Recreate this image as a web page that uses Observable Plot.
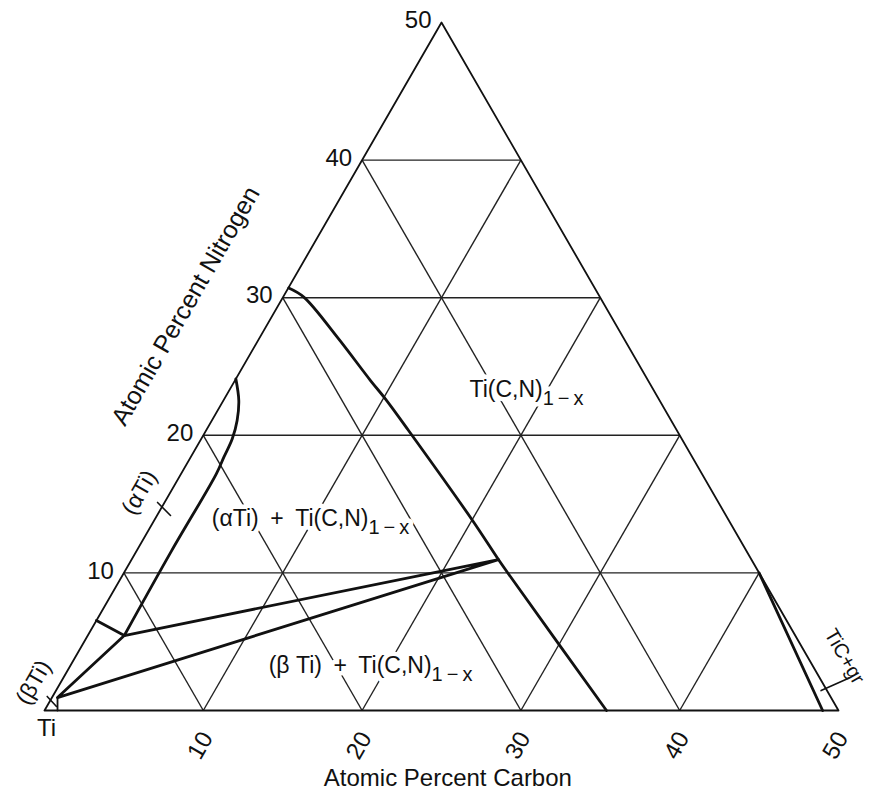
<!DOCTYPE html>
<html><head><meta charset="utf-8">
<script src="https://cdn.jsdelivr.net/npm/d3@7"></script>
<script src="https://cdn.jsdelivr.net/npm/@observablehq/plot@0.6"></script>
<style>html,body{margin:0;padding:0;background:#fff;overflow:hidden}</style>
</head><body><div id="chart"></div>
<script>
// Ti–C–N isothermal section, Ti corner. Points are [at% C, at% N].
const tickValues = [10, 20, 30, 40, 50];
const gridLevels = [10, 20, 30, 40];
const outline = [[0, 0], [50, 0], [0, 50], [0, 0]];
const tiCNBoundary = [[0.03, 30.7], [1.31, 30.04], [4.87, 27.13], [8.54, 23.98], [10.14, 22.65], [12.75, 20.35], [20.05, 13.81], [23.1, 10.97], [24.14, 10.03], [35.39, 0]];
const alphaBoundary = [[0, 24.1], [0.97, 22.53], [1.59, 21.08], [1.95, 19.75], [2.09, 18.41], [2.22, 17.2], [2.2, 11.6], [2.3, 5.45]];
const alphaBetaBoundary = [[0, 6.54], [2.3, 5.45]];
const tieTriangle = [[0.35, 0.94], [2.3, 5.45], [23.1, 10.97], [0.35, 0.94]];
const betaBoundary = [[0.35, 0.94], [0.82, 0]];
const tiCBoundary = [[40, 10], [49, 0]];
const alphaTick = [[-0.44, 15.12], [0.85, 14.17]];
const betaTick = [[-0.34, 1.02], [0.61, 0.29]];
const graphiteTick = [[48.18, 1.45], [49.46, 2.35]];
const regionLabels = ["Ti(C,N)", "(αTi)\u2002+\u2002Ti(C,N)", "(β Ti)\u2002+\u2002Ti(C,N)"];
const regionAnchors = [[20, 22.75], [13.68, 13.44], [23.0, 2.75]];
const subscript = "1\u2009−\u2009x";
const phaseLabels = ["(αTi)", "(βTi)", "TiC+gr"];
const axisTitles = ["Atomic Percent Nitrogen", "Atomic Percent Carbon"];

const S = Math.sqrt(3) / 2;
const X = ([c, n]) => c + n / 2;
const Y = ([c, n]) => n * S;

const grid = gridLevels.flatMap(v => [
  [[0, v], [50 - v, v]],
  [[v, 0], [v, 50 - v]],
  [[v, 0], [0, v]]
]);

const thick = {stroke: "#111", strokeWidth: 2.8, strokeLinejoin: "round", strokeLinecap: "round"};
const thin = {stroke: "#222", strokeWidth: 1.4};
const font = 23;
const subFont = 20;

const regionData = regionLabels.map((t, i) => ({t, p: regionAnchors[i]}));
const rx = d => X(d.p), ry = d => Y(d.p);

const chart = Plot.plot({
  width: 872, height: 799,
  marginLeft: 44, marginRight: 34, marginTop: 22, marginBottom: 89,
  x: {domain: [0, 50], axis: null},
  y: {domain: [0, 50 * S], axis: null},
  style: {fontFamily: "'Liberation Sans', Arial, sans-serif", background: "#fff", overflow: "hidden"},
  marks: [
    Plot.link(grid, {x1: d => X(d[0]), y1: d => Y(d[0]), x2: d => X(d[1]), y2: d => Y(d[1]), ...thin}),
    Plot.line(outline, {x: X, y: Y, stroke: "#111", strokeWidth: 1.8}),
    Plot.line(tiCNBoundary, {x: X, y: Y, curve: "catmull-rom", ...thick}),
    Plot.line(alphaBoundary, {x: X, y: Y, curve: "catmull-rom", ...thick}),
    Plot.line(alphaBetaBoundary, {x: X, y: Y, ...thick}),
    Plot.line(tieTriangle, {x: X, y: Y, ...thick}),
    Plot.line(betaBoundary, {x: X, y: Y, stroke: "#111", strokeWidth: 1.8}),
    Plot.line(tiCBoundary, {x: X, y: Y, ...thick}),
    Plot.line(alphaTick, {x: X, y: Y, stroke: "#111", strokeWidth: 1.6}),
    Plot.line(betaTick, {x: X, y: Y, stroke: "#111", strokeWidth: 1.6}),
    Plot.line(graphiteTick, {x: X, y: Y, stroke: "#111", strokeWidth: 1.6}),
    // white halos behind region labels
    Plot.text(regionData, {x: rx, y: ry, text: "t", textAnchor: "end", lineAnchor: "bottom", fontSize: font, fill: "white", stroke: "white", strokeWidth: 9}),
    Plot.text(regionData, {x: rx, y: ry, text: () => subscript, textAnchor: "start", lineAnchor: "bottom", dy: 8, fontSize: subFont, fill: "white", stroke: "white", strokeWidth: 9}),
    Plot.text(regionData, {x: rx, y: ry, text: "t", textAnchor: "end", lineAnchor: "bottom", fontSize: font, fill: "#111"}),
    Plot.text(regionData, {x: rx, y: ry, text: () => subscript, textAnchor: "start", lineAnchor: "bottom", dy: 8, fontSize: subFont, fill: "#111"}),
    // nitrogen ticks along the left edge
    Plot.text(tickValues, {x: v => X([0, v]), y: v => Y([0, v]), text: String, textAnchor: "end", dx: -10, dy: -2, fontSize: 24, fill: "#111"}),
    // carbon ticks along the base
    Plot.text(tickValues, {x: v => v, y: 0, text: String, rotate: -60, dx: -3, dy: 35, fontSize: 24, fill: "#111"}),
    Plot.text(["Ti"], {x: 0, y: 0, text: d => d, dx: 2, dy: 18, fontSize: 24, fill: "#111"}),
    // phase labels outside the triangle
    Plot.text([phaseLabels[0]], {x: X([-1.94, 15.84]), y: Y([-1.94, 15.84]), text: d => d, rotate: -60, fontSize: font, fill: "#111"}),
    Plot.text([phaseLabels[1]], {x: X([-1.7, 2.03]), y: Y([-1.7, 2.03]), text: d => d, rotate: -60, fontSize: font, fill: "#111"}),
    Plot.text([phaseLabels[2]], {x: X([46.53, 5.81]), y: Y([46.53, 5.81]), text: d => d, rotate: 60, textAnchor: "start", fontSize: 20, fill: "#111"}),
    // axis titles
    Plot.text([axisTitles[0]], {x: X([-5.8, 29.4]), y: Y([-5.8, 29.4]), text: d => d, rotate: -60, fontSize: 25, fill: "#111"}),
    Plot.text([axisTitles[1]], {x: 25.4, y: 0, text: d => d, dy: 68, fontSize: 24, fill: "#111"})
  ]
});
document.getElementById("chart").append(chart);
</script></body></html>
